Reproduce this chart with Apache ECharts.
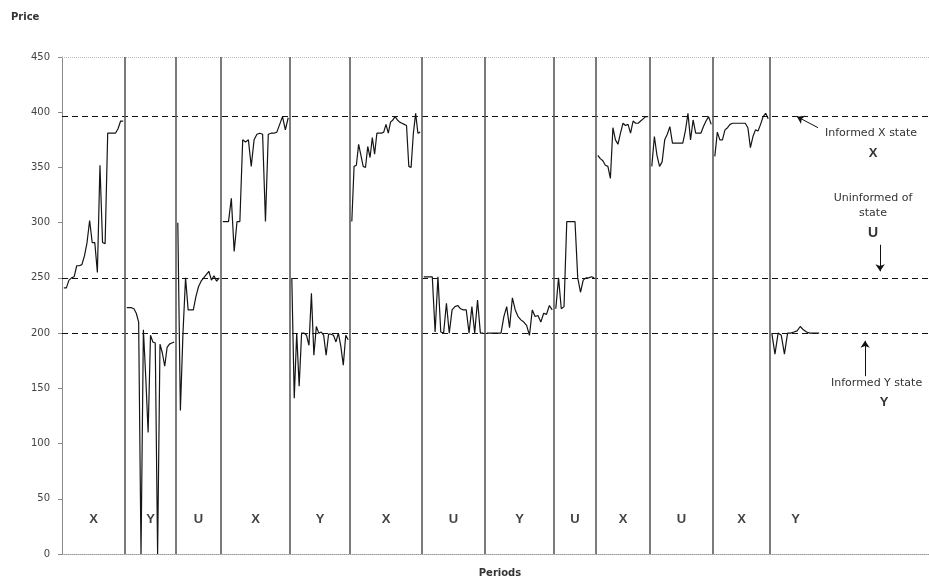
<!DOCTYPE html>
<html>
<head>
<meta charset="utf-8">
<title>Price by period</title>
<script src="https://cdn.jsdelivr.net/npm/echarts@6.0.0/dist/echarts.min.js"></script>
<style>
html,body{margin:0;padding:0;background:#fff;}
#chartBox{width:929px;height:581px;}
</style>
</head>
<body>
<div id="chartBox"></div>
<script>
// state of each period, left to right
var periodStates = ['X','Y','U','X','Y','X','U','Y','U','X','U','X','Y'];
// period edges on the trade axis
var periodBounds = [0, 21, 38, 53, 76, 96, 120, 141, 164, 178, 196, 217, 236, 253];
var tradeMax = 289;

// prices traded in each period
var p1 = [241, 241, 248, 250, 251, 261, 261, 262, 270, 282, 302, 282, 282, 255, 352, 282, 281, 381, 381, 381, 381, 385, 392, 392];
var p2 = [223, 223, 223, 222, 218, 210, 0, 203, 160, 110, 198, 192, 191, 0, 190, 182, 170, 187, 190, 191, 192];
var p3 = [300, 130, 200, 250, 221, 221, 221, 233, 242, 247, 250, 253, 256, 248, 252, 247, 250];
var p4 = [301, 301, 301, 322, 274, 301, 301, 375, 373, 375, 351, 375, 380, 381, 380, 301, 380, 381, 381, 382, 389, 396, 384, 395];
var p5 = [250, 141, 200, 152, 200, 200, 198, 189, 236, 180, 206, 200, 201, 198, 180, 199, 199, 198, 192, 200, 188, 171, 198, 194];
var p6 = [301, 351, 352, 371, 361, 351, 350, 369, 359, 377, 362, 381, 381, 381, 382, 389, 381, 391, 393, 396, 393, 391, 390, 389, 388, 351, 350, 381, 399, 381, 382];
var p7 = [251, 251, 251, 251, 201, 251, 201, 200, 227, 200, 221, 224, 225, 222, 221, 221, 200, 224, 200, 230, 200, 200];
var p8 = [200, 200, 200, 200, 200, 200, 215, 224, 205, 232, 221, 215, 212, 210, 207, 198, 221, 215, 216, 210, 218, 217, 225, 221];
var p9 = [222, 250, 222, 224, 301, 301, 301, 301, 250, 237, 248, 250, 250, 251, 250];
var p10 = [361, 358, 356, 352, 351, 340, 386, 375, 371, 381, 390, 388, 389, 381, 392, 390, 390, 392, 394, 396, 396];
var p11 = [351, 378, 361, 351, 355, 375, 380, 387, 372, 372, 372, 372, 372, 383, 399, 375, 393, 381, 381, 381, 387, 392, 396, 389];
var p12 = [360, 382, 375, 375, 384, 386, 389, 390, 390, 390, 390, 390, 390, 386, 368, 378, 384, 383, 389, 396, 399, 394];
var p13 = [200, 181, 200, 198, 181, 200, 200, 201, 202, 206, 203, 201, 200, 200, 200, 200];
var periodPrices = [p1, p2, p3, p4, p5, p6, p7, p8, p9, p10, p11, p12, p13];

// price axis and the three reference prices
var priceMin = 0;
var priceMax = 450;
var priceStep = 50;
var refLevels = [396, 250, 200];

(function(){
	var PricePanel = function(){
		this.init();
	};
	var p = PricePanel.prototype;

	p.init = function(){
		this.chart = echarts.init(document.getElementById('chartBox'));
		this.chart.setOption(this.buildOption());
	};

	// every period is spread over its own span, gaps between periods
	p.buildLine = function(){
		var data = [];
		$each(periodPrices, function(k, prices){
			var a = periodBounds[k] + 0.6;
			var b = periodBounds[k + 1] - 0.6;
			var n = prices.length;
			for(var i = 0; i < n; i++){
				data.push([a + (b - a) * i / (n - 1), prices[i]]);
			}
			data.push([b + 0.3, null]);
		});
		return data;
	};

	p.buildStateLabels = function(){
		var data = [];
		$each(periodStates, function(k, s){
			data.push({name: s, value: [(periodBounds[k] + periodBounds[k + 1]) / 2, 31]});
		});
		return data;
	};

	p.buildOption = function(){
		var hLines = [];
		$each(refLevels, function(i, v){
			hLines.push({yAxis: v, lineStyle: {color: '#111', type: [6, 4], width: 1}});
		});
		hLines.push({yAxis: priceMax, lineStyle: {color: '#bbb', type: 'dotted', width: 1}});
		// separators between periods
		for(var k = 1; k < periodStates.length; k++){
			hLines.push({xAxis: periodBounds[k], lineStyle: {color: '#5a5a5a', type: 'solid', width: 1.6}});
		}
		var arrowStyle = {color: '#111', type: 'solid', width: 1};
		var arrows = [
			[{coord: [252, 386], lineStyle: arrowStyle}, {coord: [245, 396]}],
			[{coord: [272.7, 280], lineStyle: arrowStyle}, {coord: [272.7, 256]}],
			[{coord: [267.7, 161], lineStyle: arrowStyle}, {coord: [267.7, 193]}]
		];
		var txt = function(x, y, s, font, align){
			return {type: 'text', x: x, y: y, silent: true,
				style: {text: s, font: font, fill: '#333', align: align || 'center', verticalAlign: 'middle'}};
		};
		return {
			animation: false,
			backgroundColor: '#fff',
			grid: {left: 62, right: 0, top: 57, bottom: 27, containLabel: false},
			xAxis: {
				type: 'value', min: 0, max: tradeMax,
				axisLabel: {show: false}, axisTick: {show: false}, splitLine: {show: false},
				axisLine: {show: true, lineStyle: {color: '#999', type: 'dotted'}}
			},
			yAxis: {
				type: 'value', min: priceMin, max: priceMax, interval: priceStep,
				axisLine: {show: true, lineStyle: {color: '#888'}},
				axisTick: {show: true, length: 4, lineStyle: {color: '#888'}},
				axisLabel: {color: '#444', fontSize: 10, fontFamily: 'DejaVu Sans', margin: 12},
				splitLine: {show: false}
			},
			graphic: [
				txt(11, 17, 'Price', 'bold 10px DejaVu Sans', 'left'),
				txt(500, 573, 'Periods', 'bold 10px DejaVu Sans'),
				txt(871, 133, 'Informed X state', '11px DejaVu Sans'),
				txt(873, 153, 'X', 'bold 13px Liberation Sans'),
				txt(873, 198, 'Uninformed of', '11px DejaVu Sans'),
				txt(873, 213, 'state', '11px DejaVu Sans'),
				txt(873, 233, 'U', 'bold 14px Liberation Sans'),
				txt(831, 383, 'Informed Y state', '11px DejaVu Sans', 'left'),
				txt(884, 402, 'Y', 'bold 13px Liberation Sans')
			],
			series: [
				{
					name: 'Price', type: 'line', data: this.buildLine(),
					showSymbol: false, connectNulls: false,
					lineStyle: {color: '#151515', width: 1.2},
					markLine: {silent: true, symbol: ['none', 'none'], label: {show: false}, data: hLines}
				},
				{
					name: 'arrows', type: 'line', data: [],
					markLine: {silent: true, symbol: ['none', 'arrow'], symbolSize: 7, label: {show: false}, data: arrows}
				},
				{
					name: 'states', type: 'scatter', symbolSize: 0, silent: true,
					data: this.buildStateLabels(),
					label: {show: true, position: 'inside', formatter: '{b}', color: '#111',
						fontSize: 13, fontWeight: 'bold', fontFamily: 'Liberation Sans'}
				}
			]
		};
	};

	// small each helper like $.each
	function $each(arr, fn){
		for(var i = 0; i < arr.length; i++){ fn(i, arr[i]); }
	}

	new PricePanel();
})();
</script>
</body>
</html>
